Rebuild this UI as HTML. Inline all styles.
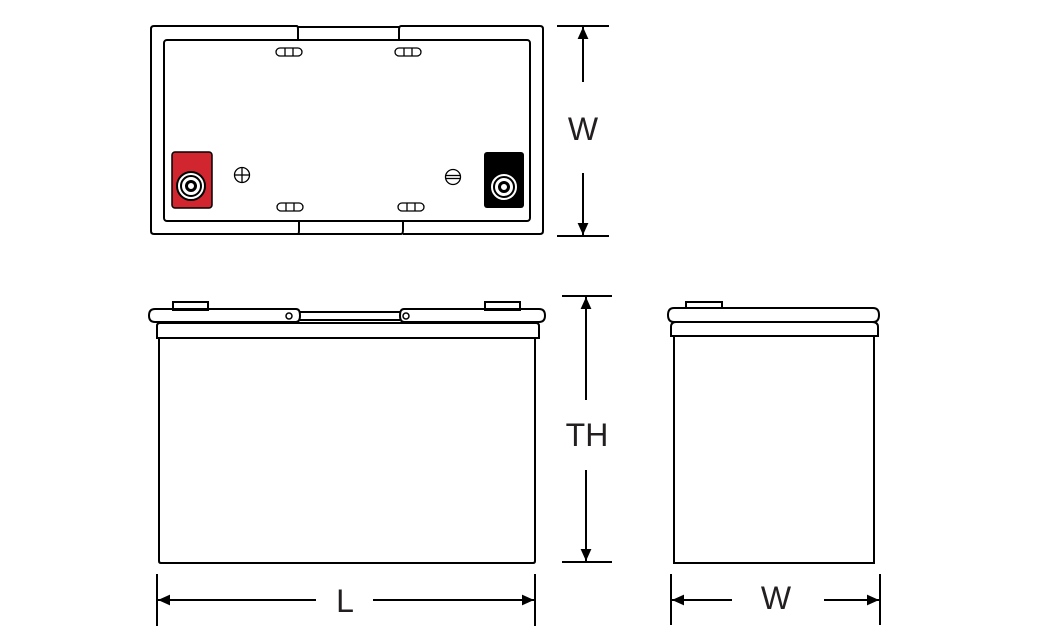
<!DOCTYPE html>
<html><head><style>body{margin:0;background:#fff}svg{display:block}text{font-family:"Liberation Sans",sans-serif;fill:#231f20}</style></head><body>
<svg width="1040" height="638" viewBox="0 0 1040 638" xmlns="http://www.w3.org/2000/svg">
<defs>
<marker id="a" viewBox="0 0 10 10" refX="10" refY="5" markerWidth="16" markerHeight="12" markerUnits="userSpaceOnUse" orient="auto"><path d="M0,0.5 L10,5 L0,9.5 Z" fill="#000"/></marker>
</defs>
<g fill="none" stroke="#000" stroke-width="2">
<path d="M297,26 H154 Q151,26 151,29 V231 Q151,234 154,234 H298 Q299,234 299,230 V222"/>
<path d="M298,234 H401 Q403,234 403,230 V222 M403,234 H540 Q543,234 543,231 V29 Q543,26 540,26 H401 Q399,26 399,30 V40 M297,26 Q298,26 298,30 V40 M298,27 H400"/>
<rect x="164" y="40" width="366" height="181" rx="3"/>
<g stroke-width="1.3">
<rect x="276" y="48" width="26" height="8" rx="4"/><line x1="285" y1="48" x2="285" y2="56"/><line x1="293" y1="48" x2="293" y2="56"/>
<rect x="395" y="48" width="26" height="8" rx="4"/><line x1="404" y1="48" x2="404" y2="56"/><line x1="412" y1="48" x2="412" y2="56"/>
<rect x="277" y="203" width="26" height="8" rx="4"/><line x1="286" y1="203" x2="286" y2="211"/><line x1="294" y1="203" x2="294" y2="211"/>
<rect x="398" y="203" width="26" height="8" rx="4"/><line x1="407" y1="203" x2="407" y2="211"/><line x1="415" y1="203" x2="415" y2="211"/>
<circle cx="242" cy="175" r="7.5"/><line x1="234.5" y1="175" x2="249.5" y2="175"/><line x1="242" y1="167.5" x2="242" y2="182.5"/>
<circle cx="453" cy="177" r="7.5"/><line x1="445.5" y1="175.5" x2="460.5" y2="175.5"/><line x1="445.5" y1="178.5" x2="460.5" y2="178.5"/>
</g>
</g>
<rect x="172" y="152" width="40" height="56" rx="3" fill="#d12630" stroke="#000" stroke-width="1.5"/>
<circle cx="191" cy="186" r="14" fill="#fff" stroke="#000" stroke-width="2"/>
<circle cx="191" cy="186" r="10" fill="none" stroke="#000" stroke-width="2"/>
<circle cx="191" cy="186" r="4.5" fill="none" stroke="#000" stroke-width="3"/>
<rect x="484" y="152" width="40" height="56" rx="3" fill="#000"/>
<circle cx="504" cy="187" r="13.5" fill="#fff" stroke="#000" stroke-width="1"/>
<circle cx="504" cy="187" r="10" fill="none" stroke="#000" stroke-width="2"/>
<circle cx="504" cy="187" r="4.5" fill="none" stroke="#000" stroke-width="3"/>

<g fill="none" stroke="#000" stroke-width="2">
<line x1="557" y1="26" x2="609" y2="26"/><line x1="557" y1="236" x2="609" y2="236"/>
<line x1="583" y1="82" x2="583" y2="27" marker-end="url(#a)"/>
<line x1="583" y1="173" x2="583" y2="235" marker-end="url(#a)"/>
<rect x="173" y="302" width="35" height="8"/><rect x="485" y="302" width="35" height="8"/>
<path d="M155,309 H296 Q300,309 300,315.5 Q300,322 296,322 H155 Q149,322 149,315.5 Q149,309 155,309 Z"/>
<path d="M404,309 H539 Q545,309 545,315.5 Q545,322 539,322 H404 Q400,322 400,315.5 Q400,309 404,309 Z"/>
<line x1="300" y1="312" x2="400" y2="312"/><line x1="300" y1="320" x2="400" y2="320"/>
<circle cx="289" cy="316" r="3" stroke-width="1.5"/><circle cx="406" cy="316" r="3" stroke-width="1.5"/>
<path d="M157,338 V326 Q157,323 160,323 H536 Q539,323 539,326 V338 Z"/>
<path d="M159,338 V561 Q159,563 161,563 H533 Q535,563 535,561 V338"/>
<line x1="562" y1="296" x2="612" y2="296"/><line x1="562" y1="562" x2="612" y2="562"/>
<line x1="586" y1="400" x2="586" y2="297" marker-end="url(#a)"/>
<line x1="586" y1="470" x2="586" y2="561" marker-end="url(#a)"/>
<line x1="157" y1="574" x2="157" y2="626"/><line x1="535" y1="574" x2="535" y2="626"/>
<line x1="316" y1="600" x2="158" y2="600" marker-end="url(#a)"/>
<line x1="373" y1="600" x2="534" y2="600" marker-end="url(#a)"/>
<rect x="686" y="302" width="36" height="6"/>
<path d="M674,308 H873 Q879,308 879,315 Q879,322 873,322 H674 Q668,322 668,315 Q668,308 674,308 Z"/>
<path d="M671,336 V327 Q671,322 676,322 H872 Q878,322 878,327 V336 Z"/>
<path d="M674,336 V563 H874 V336"/>
<line x1="671" y1="574" x2="671" y2="625"/><line x1="880" y1="574" x2="880" y2="625"/>
<line x1="732" y1="600" x2="672" y2="600" marker-end="url(#a)"/>
<line x1="824" y1="600" x2="879" y2="600" marker-end="url(#a)"/>
</g>
<text x="583" y="140" font-size="32" text-anchor="middle">W</text>
<text x="587" y="446" font-size="32" text-anchor="middle">TH</text>
<text x="345" y="612" font-size="32" text-anchor="middle">L</text>
<text x="776" y="609" font-size="32" text-anchor="middle">W</text>
</svg>
</body></html>
